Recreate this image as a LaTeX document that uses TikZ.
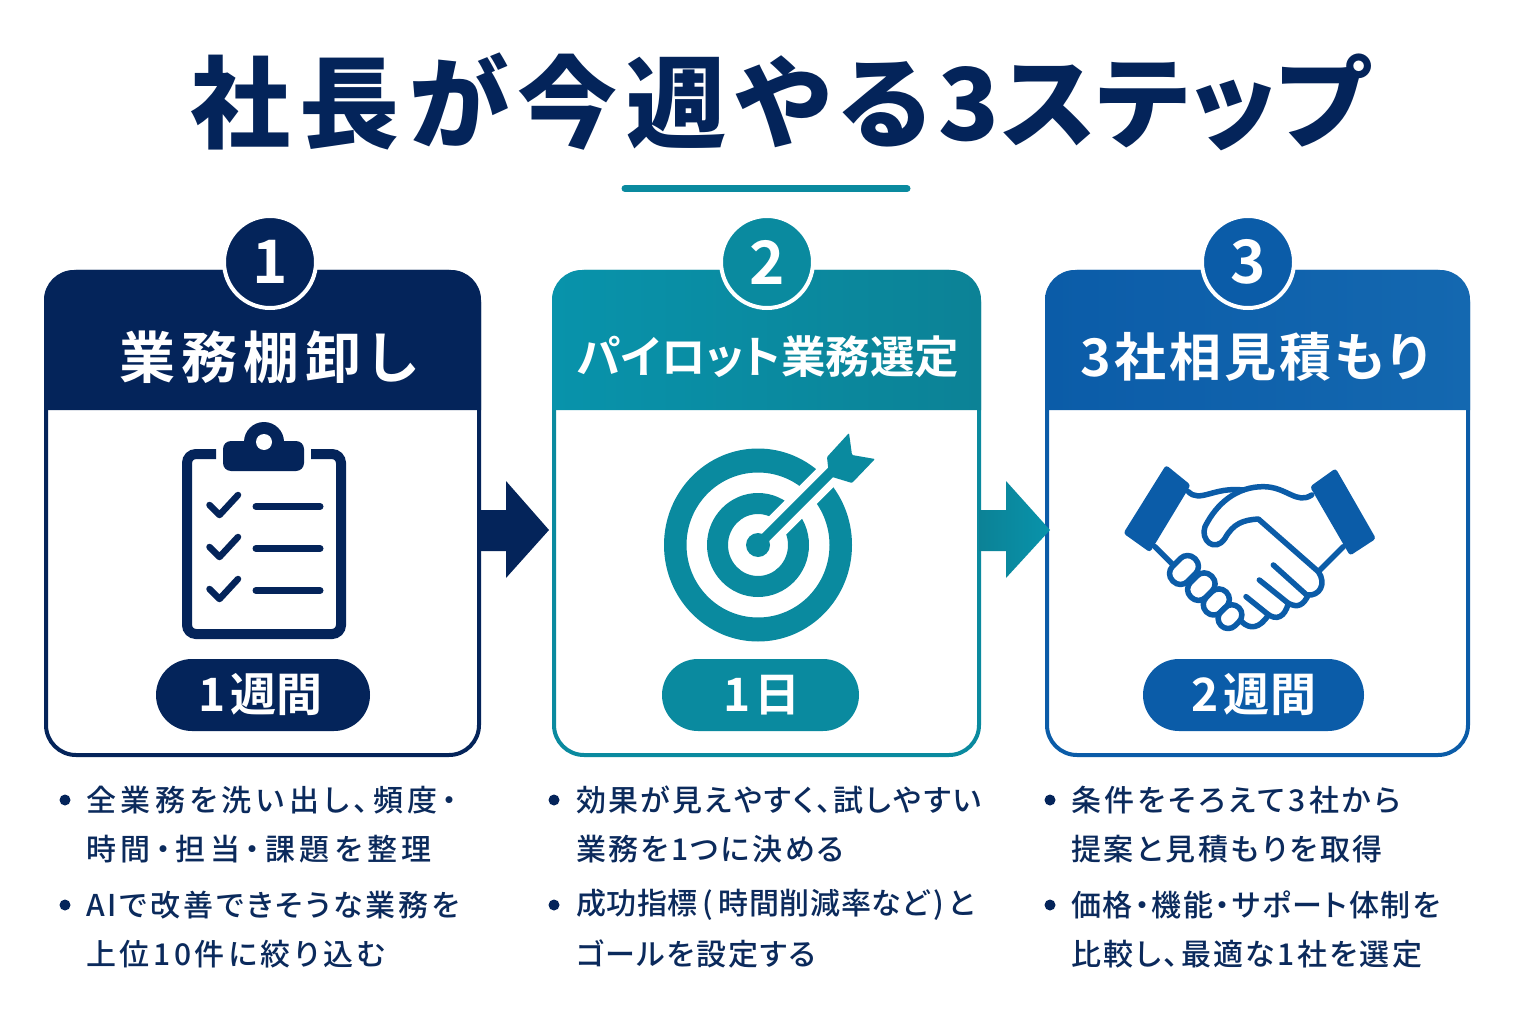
\documentclass[tikz,border=0pt]{standalone}
\usepackage{fontspec}
\usetikzlibrary{calc}
\setmainfont{Noto Sans CJK JP}[RawFeature={+palt}]
\newfontfamily\medfont{Noto Sans CJK JP Medium}[RawFeature={+palt}]
\newfontfamily\boldfont{Noto Sans CJK JP Bold}[RawFeature={+palt}]
\newfontfamily\blackfont{Noto Sans CJK JP Black}[RawFeature={+palt}]
\definecolor{navy}{HTML}{04245A}
\definecolor{teal}{HTML}{0A8A9F}
\definecolor{tealL}{HTML}{0893AB}
\definecolor{tealD}{HTML}{0C8296}
\definecolor{blue}{HTML}{0B5CA8}
\definecolor{blueL}{HTML}{1468B0}
\definecolor{ink}{HTML}{0B2A5C}
\tikzset{
  cardbox/.style={draw=#1,line width=4pt,fill=white,rounded corners=30pt,anchor=north west,inner sep=0pt,outer sep=0pt},
  numdisc/.style={circle,fill=#1,draw=white,line width=4pt,minimum size=92pt,inner sep=0pt,text=white,font=\boldfont\fontsize{60}{60}\selectfont},
  headtext/.style={text=white,anchor=center,inner sep=0pt},
  pill/.style={fill=#1,rounded corners=36pt,minimum height=72pt,inner sep=0pt},
  pilltext/.style={text=white,inner sep=0pt,font=\boldfont\addfontfeatures{LetterSpace=#1}\fontsize{46}{46}\selectfont},
  bodyline/.style={anchor=west,inner sep=0pt,text=ink,font=\medfont\addfontfeatures{LetterSpace=#1}\fontsize{30}{30}\selectfont},
  bulletdot/.style={circle,fill=#1,minimum size=11pt,inner sep=0pt},
  iconline/.style={draw=#1,line cap=round,line join=round},
}
\newcommand{\cardhead}[3]{\path[#3] (#1,410) [rounded corners=30pt] -- (#1,270) -- (#2,270) [sharp corners] -- (#2,410) -- cycle;}
\begin{document}
\begin{tikzpicture}[x=1pt,y=-1pt]
\useasboundingbox (0,0) rectangle (1536,1024);
\fill[white] (0,0) rectangle (1536,1024);
% title
\node[inner sep=0pt,text=navy,font=\blackfont\fontsize{100}{100}\selectfont] (title) at (780,102) {{\addfontfeatures{LetterSpace=9}社長が今週やる}\hspace{8pt}{\addfontfeatures{LetterSpace=1.5}3ステップ}};
\draw[teal,line width=7pt,line cap=round] (625,188.5) coordinate (ruleL) -- (907,188.5) coordinate (ruleR);
% cards
\node[cardbox=navy,minimum width=433pt,minimum height=483pt] (c1) at (46,272) {};
\node[cardbox=teal,minimum width=425pt,minimum height=483pt] (c2) at (554,272) {};
\node[cardbox=blue,minimum width=421pt,minimum height=483pt] (c3) at (1047,272) {};
\cardhead{44}{481}{fill=navy}
\cardhead{552}{981}{left color=tealL,right color=tealD}
\cardhead{1045}{1470}{left color=blue,right color=blueL}
% number discs
\node[numdisc=navy] (n1) at (270,262) {1};
\node[numdisc=teal] (n2) at (767,262) {2};
\node[numdisc=blue] (n3) at (1248,262) {3};
% header texts
\node[headtext,font=\boldfont\addfontfeatures{LetterSpace=11}\fontsize{56}{56}\selectfont] (h1) at (268,357) {業務棚卸し};
\node[headtext,font=\boldfont\fontsize{44.5}{45}\selectfont] (h2) at (768,357) {パイロット業務選定};
\node[headtext,font=\boldfont\addfontfeatures{LetterSpace=6}\fontsize{52}{52}\selectfont] (h3) at (1255,357) {3社相見積もり};
% arrows between cards
\fill[navy] (c1.east |- 0,510) -- (506,510) -- (506,481) -- (549,530) -- (506,578) -- (506,551) -- (c1.east |- 0,551) -- cycle;
\path[left color=tealD,right color=tealL] (c2.east |- 0,510) -- (1006,510) -- (1006,481) -- (1050,530) -- (1006,578) -- (1006,551) -- (c2.east |- 0,551) -- cycle;
% clipboard icon
\draw[navy,line width=10pt,rounded corners=9pt] (216,454) -- (187,454) -- (187,634) -- (341,634) -- (341,454) -- (311,454);
\fill[navy,rounded corners=8pt] (223,441) rectangle (304,471);
\fill[navy] (264,442) circle (20pt);
\fill[white] (264,442) circle (8pt);
\foreach \yy in {0,42,84}{
  \draw[iconline=navy,line width=6.5pt] (209.5,505+\yy) -- (219.5,515+\yy) -- (238,495+\yy);
  \draw[iconline=navy,line width=7pt] (256,506.5+\yy) -- (320,506.5+\yy);
}
% target icon
\fill[teal,even odd rule] (758,545) ellipse [x radius=94pt,y radius=96.5pt] (758,545) ellipse [x radius=71.5pt,y radius=72.5pt];
\fill[teal,even odd rule] (758,545) ellipse [x radius=51pt,y radius=52pt] (758,545) ellipse [x radius=30pt,y radius=31pt];
\draw[white,line width=25pt] (768,535) -- (850,453);
\draw[teal,line width=10pt] (758,545) -- (838,465);
\fill[teal] (758,545) circle (12pt);
\fill[teal,rounded corners=1pt] (827,457) -- (849,433) -- (852,455) -- (875,459) -- (852,483) -- (829,476) -- cycle;
% handshake icon
\begin{scope}[shift={(1100,440)},x=0.3333pt,y=-0.3333pt]
  \fill[blue,rounded corners=3pt] (198,75) -- (272,135) -- (150,337) -- (70,280) -- cycle;
  \fill[blue,rounded corners=3pt] (707,85) -- (630,140) -- (750,347) -- (828,296) -- cycle;
  \begin{scope}[iconline=blue,line width=5.5pt]
    \draw (265,155) .. controls (300,190) and (340,140) .. (430,150);
    \draw (635,165) .. controls (590,195) and (560,140) .. (490,140) .. controls (410,140) and (350,190) .. (315,260) .. controls (300,300) and (345,340) .. (375,295) .. controls (400,250) and (430,240) .. (475,237) -- (655,395) .. controls (680,430) and (660,470) .. (620,465) -- (520,375);
    \draw (625,465) .. controls (610,495) and (595,505) .. (565,490) -- (478,420);
    \draw (565,490) .. controls (555,530) and (530,545) .. (500,520) -- (438,470);
    \draw (505,525) .. controls (480,565) and (450,570) .. (425,545);
    \draw (730,320) -- (660,390);
    \draw (165,320) -- (220,375);
    \draw[rotate around={45:(252,390)},rounded corners=10pt] (205,358) rectangle (299,422);
    \draw[rotate around={45:(304,440)},rounded corners=10pt] (260,408) rectangle (348,472);
    \draw[rotate around={45:(349,486)},rounded corners=10pt] (307,455) rectangle (391,517);
    \draw[rotate around={45:(390,530)},rounded corners=10pt] (352,500) rectangle (428,560);
  \end{scope}
\end{scope}
% pills
\node[pill=navy,minimum width=214pt] (p1) at (263,695) {};
\node[pill=teal,minimum width=197pt] (p2) at (760.5,695) {};
\node[pill=blue,minimum width=221pt] (p3) at (1253.5,695) {};
\node[pilltext=2] (pt1) at (261,695) {1\hspace{4pt}週間};
\node[pilltext=2] (pt2) at (762,695) {1\hspace{4pt}日};
\node[pilltext=2] (pt3) at (1254,695) {2\hspace{4pt}週間};
% bullets
\node[bulletdot=navy] (b11) at (65,800) {};
\node[bulletdot=navy] (b12) at (65,905) {};
\node[bulletdot=navy] (b21) at (554,800) {};
\node[bulletdot=navy] (b22) at (554,905) {};
\node[bulletdot=navy] (b31) at (1050,800) {};
\node[bulletdot=navy] (b32) at (1050,905) {};
% body text
\node[bodyline=15] (t11) at (86,800) {全業務を洗い出し、頻度・};
\node[bodyline=16] (t12) at (86,849) {時間・担当・課題を整理};
\node[bodyline=9.5] (t13) at (86,905) {AIで改善できそうな業務を};
\node[bodyline=12] (t14) at (86,954) {上位10件に絞り込む};
\node[bodyline=7.5] (t21) at (576,800) {効果が見えやすく、試しやすい};
\node[bodyline=8] (t22) at (576,849) {業務を1つに決める};
\node[bodyline=2] (t23) at (576,905) {成功指標\hspace{5pt}(\hspace{5pt}時間削減率など\hspace{4pt})\hspace{4pt}と};
\node[bodyline=6] (t24) at (576,954) {ゴールを設定する};
\node[bodyline=11] (t31) at (1071,800) {条件をそろえて3社から};
\node[bodyline=9] (t32) at (1071,849) {提案と見積もりを取得};
\node[bodyline=6] (t33) at (1071,905) {価格・機能・サポート体制を};
\node[bodyline=8] (t34) at (1071,954) {比較し、最適な1社を選定};
\end{tikzpicture}
\end{document}
